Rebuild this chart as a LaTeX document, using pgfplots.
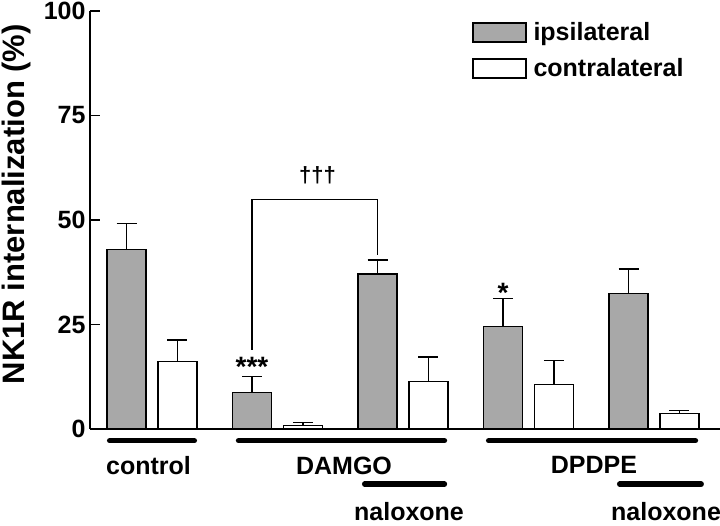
\documentclass[border=0pt]{standalone}
\usepackage{fontspec}
\setmainfont{Liberation Sans}
\usepackage{pgfplots}
\pgfplotsset{compat=1.18}
\definecolor{barg}{RGB}{168,168,168}
\begin{document}
\begin{tikzpicture}[font=\fontsize{25}{30}\selectfont\bfseries]
\begin{axis}[
  scale only axis, width=630pt, height=418pt,
  xmin=-0.494, xmax=4.526, ymin=0, ymax=100,
  axis x line=bottom, axis y line=left,
  axis line style={-, line width=1.3pt},
  xtick=\empty,
  ytick={0,25,50,75,100},
  tick align=inside,
  major tick length=10pt,
  tick style={line width=1.3pt, black},
  /pgf/number format/assume math mode=true,
  yticklabel style={font=\fontsize{25}{30}\selectfont\bfseries, xshift=-1pt},
  ylabel={NK1R internalization (\%)},
  ylabel style={font=\fontsize{31}{36}\selectfont\bfseries, at={(rel axis cs:-0.1405,0.538)}, anchor=north, rotate=0, inner sep=0pt},
  ybar, bar width=0.311,
  clip=false,
  legend style={at={(axis cs:2.55,97.3)}, anchor=north west, draw=none, fill=none,
    inner sep=0pt, row sep=15.5pt, column sep=7pt,
    nodes={inner sep=0pt}, font=\fontsize{25}{30}\selectfont\bfseries},
  legend cell align=left,
  legend image code/.code={\draw[#1, line width=1.3pt] (0pt,-9.5pt) rectangle (53pt,9.5pt);},
  error bars/error bar style={line width=1.3pt, black},
  error bars/error mark options={line width=1.3pt, black, mark size=10pt, rotate=90},
]
\addplot[fill=barg, draw=black, line width=1.3pt, bar shift=-0.203,
  error bars/.cd, y dir=plus, y explicit]
  table[x=x, y=y, y error=e] {
x y e
0 43.0 6.1
1 8.7 3.8
2 37.1 3.3
3 24.6 6.6
4 32.4 5.9
};
\addlegendentry{ipsilateral}
\addplot[fill=white, draw=black, line width=1.3pt, bar shift=0.203,
  error bars/.cd, y dir=plus, y explicit]
  table[x=x, y=y, y error=e] {
x y e
0 16.2 5.1
1 0.9 0.7
2 11.3 5.9
3 10.6 5.8
4 3.75 0.65
};
\addlegendentry{contralateral}
% group bars
\draw[line width=5.5pt, line cap=round] (axis cs:-0.337,-2.8) -- (axis cs:0.337,-2.8);
\draw[line width=5.5pt, line cap=round] (axis cs:0.69,-2.8) -- (axis cs:2.33,-2.8);
\draw[line width=5.5pt, line cap=round] (axis cs:2.683,-2.8) -- (axis cs:4.33,-2.8);
\draw[line width=5.5pt, line cap=round] (axis cs:1.695,-13.2) -- (axis cs:2.33,-13.2);
\draw[line width=5.5pt, line cap=round] (axis cs:3.727,-13.2) -- (axis cs:4.376,-13.2);
\node[anchor=base] at (axis cs:-0.028,-11.0) {control};
\node[anchor=base] at (axis cs:1.53,-11.0) {DAMGO};
\node[anchor=base] at (axis cs:3.522,-10.6) {DPDPE};
\node[anchor=base, inner sep=0pt] at (axis cs:2.048,-21.9) {naloxone};
\node[anchor=base, inner sep=0pt] at (axis cs:4.096,-21.9) {naloxone};
% significance
\draw[line width=1.1pt] (axis cs:0.797,18.9) -- (axis cs:0.797,55) -- (axis cs:1.797,55) -- (axis cs:1.797,41.6);
\node[font=\fontsize{22}{26}\selectfont\bfseries] at (axis cs:1.319,60.8) {†††};
\node[anchor=base, font=\fontsize{28}{32}\selectfont\bfseries] at (axis cs:0.797,12.6) {***};
\node[anchor=base, font=\fontsize{28}{32}\selectfont\bfseries] at (axis cs:2.797,30.3) {*};
\coordinate (bl) at (rel axis cs:-0.142857,-0.22967);
\coordinate (tr) at (rel axis cs:1,1.02632);
\end{axis}
\pgfresetboundingbox
\path (bl) rectangle (tr);
\end{tikzpicture}
\end{document}
